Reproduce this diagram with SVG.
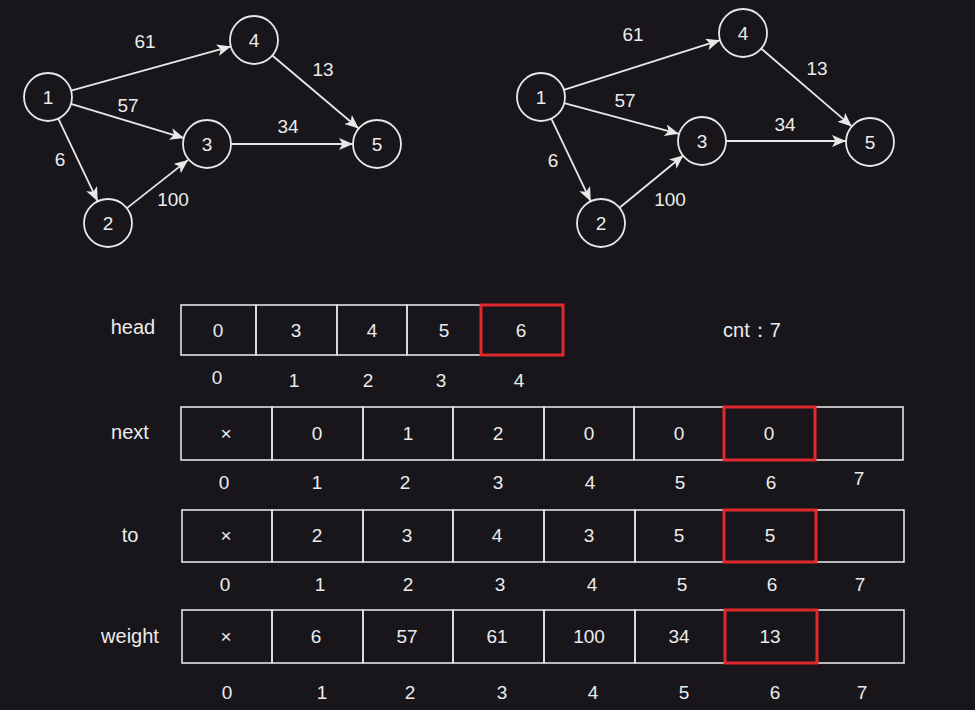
<svg xmlns="http://www.w3.org/2000/svg" width="975" height="710" viewBox="0 0 975 710">
<defs>
<style>
text{font-family:"Liberation Sans",Arial,sans-serif;font-size:19px;fill:#ececec;text-anchor:middle}
.lb{font-size:20px}
.n{fill:none;stroke:#e8e8e8;stroke-width:1.8}
.e{fill:none;stroke:#e8e8e8;stroke-width:1.8;marker-end:url(#arr)}
.c{fill:none;stroke:#e2e2e2;stroke-width:1.6}
.r{fill:none;stroke:#e0282f;stroke-width:3}
</style>
<marker id="arr" viewBox="0 0 14 12" refX="14" refY="6" markerWidth="14" markerHeight="12" markerUnits="userSpaceOnUse" orient="auto">
<path d="M0,0 L14,6 L0,12 L3.5,6 z" fill="#e8e8e8"/>
</marker>
</defs>
<rect width="975" height="710" fill="#18161b"/>

<g id="connectors">
<line class="e" x1="71.1" y1="90.6" x2="230.9" y2="46.4"/>
<line class="e" x1="71" y1="103.9" x2="184" y2="138.1"/>
<line class="e" x1="58.3" y1="118.7" x2="97.7" y2="201.3"/>
<line class="e" x1="126.9" y1="208.1" x2="188.1" y2="159.9"/>
<line class="e" x1="231" y1="144" x2="353" y2="144"/>
<line class="e" x1="272.3" y1="55.5" x2="358.7" y2="128.5"/>
<line class="e" x1="563.9" y1="89.8" x2="720.1" y2="40.2"/>
<line class="e" x1="564.2" y1="103.2" x2="678.8" y2="133.8"/>
<line class="e" x1="551.3" y1="118.7" x2="590.7" y2="201.3"/>
<line class="e" x1="619.5" y1="207.8" x2="683.5" y2="155.2"/>
<line class="e" x1="726" y1="141" x2="846" y2="141"/>
<line class="e" x1="761.2" y1="48.6" x2="851.8" y2="126.4"/>
</g>
<g id="edge-labels">
<text x="145" y="48">61</text>
<text x="128" y="112">57</text>
<text x="60" y="166">6</text>
<text x="173" y="206">100</text>
<text x="288" y="133">34</text>
<text x="323" y="76">13</text>
<text x="633" y="41">61</text>
<text x="625" y="107">57</text>
<text x="553" y="167">6</text>
<text x="670" y="206">100</text>
<text x="785" y="131">34</text>
<text x="817" y="75">13</text>
</g>

<g id="L1"><circle class="n" cx="48" cy="97" r="24"/><text x="48" y="104">1</text></g>
<g id="L2"><circle class="n" cx="108" cy="223" r="24"/><text x="108" y="230">2</text></g>
<g id="L3"><circle class="n" cx="207" cy="144" r="24"/><text x="207" y="151">3</text></g>
<g id="L4"><circle class="n" cx="254" cy="40" r="24"/><text x="254" y="47">4</text></g>
<g id="L5"><circle class="n" cx="377" cy="144" r="24"/><text x="377" y="151">5</text></g>

<g id="R1"><circle class="n" cx="541" cy="97" r="24"/><text x="541" y="104">1</text></g>
<g id="R2"><circle class="n" cx="601" cy="223" r="24"/><text x="601" y="230">2</text></g>
<g id="R3"><circle class="n" cx="702" cy="141" r="24"/><text x="702" y="148">3</text></g>
<g id="R4"><circle class="n" cx="743" cy="33" r="24"/><text x="743" y="40">4</text></g>
<g id="R5"><circle class="n" cx="870" cy="142" r="24"/><text x="870" y="149">5</text></g>

<g id="head">
<text class="lb" x="133" y="334">head</text>
<rect class="c" x="181" y="305" width="75" height="50"/>
<rect class="c" x="256" y="305" width="81" height="50"/>
<rect class="c" x="337" y="305" width="70" height="50"/>
<rect class="c" x="407" y="305" width="74" height="50"/>
<rect class="r" x="481" y="305" width="82" height="50"/>
<text x="218" y="337">0</text><text x="296" y="337">3</text><text x="372" y="337">4</text><text x="444" y="337">5</text><text x="521" y="337">6</text>
<text x="217" y="384">0</text><text x="294" y="387">1</text><text x="368" y="387">2</text><text x="441" y="387">3</text><text x="519" y="387">4</text>
</g>
<g id="cnt"><text class="lb" x="752" y="337">cnt：7</text></g>

<g id="next">
<text class="lb" x="130" y="439">next</text>
<rect class="c" x="181" y="407" width="91" height="53"/>
<rect class="c" x="272" y="407" width="91" height="53"/>
<rect class="c" x="363" y="407" width="90" height="53"/>
<rect class="c" x="453" y="407" width="91" height="53"/>
<rect class="c" x="544" y="407" width="90" height="53"/>
<rect class="c" x="634" y="407" width="90" height="53"/>
<rect class="c" x="815" y="407" width="88" height="53"/>
<rect class="r" x="724" y="407" width="91" height="53"/>
<text x="226" y="440">×</text><text x="317" y="440">0</text><text x="408" y="440">1</text><text x="498" y="440">2</text><text x="589" y="440">0</text><text x="679" y="440">0</text><text x="769" y="440">0</text>
<text x="224" y="489">0</text><text x="317" y="489">1</text><text x="405" y="489">2</text><text x="498" y="489">3</text><text x="590" y="489">4</text><text x="680" y="489">5</text><text x="771" y="489">6</text><text x="859" y="485">7</text>
</g>

<g id="to">
<text class="lb" x="130" y="542">to</text>
<rect class="c" x="182" y="510" width="90" height="52"/>
<rect class="c" x="272" y="510" width="91" height="52"/>
<rect class="c" x="363" y="510" width="90" height="52"/>
<rect class="c" x="453" y="510" width="91" height="52"/>
<rect class="c" x="544" y="510" width="91" height="52"/>
<rect class="c" x="635" y="510" width="89" height="52"/>
<rect class="c" x="816" y="510" width="88" height="52"/>
<rect class="r" x="724" y="510" width="92" height="52"/>
<text x="226" y="542">×</text><text x="317" y="542">2</text><text x="407" y="542">3</text><text x="497" y="542">4</text><text x="589" y="542">3</text><text x="679" y="542">5</text><text x="770" y="542">5</text>
<text x="225" y="591">0</text><text x="320" y="591">1</text><text x="408" y="591">2</text><text x="500" y="591">3</text><text x="592" y="591">4</text><text x="682" y="591">5</text><text x="772" y="591">6</text><text x="860" y="591">7</text>
</g>

<g id="weight">
<text class="lb" x="130" y="643">weight</text>
<rect class="c" x="182" y="610" width="90" height="53"/>
<rect class="c" x="272" y="610" width="91" height="53"/>
<rect class="c" x="363" y="610" width="90" height="53"/>
<rect class="c" x="453" y="610" width="91" height="53"/>
<rect class="c" x="544" y="610" width="91" height="53"/>
<rect class="c" x="635" y="610" width="90" height="53"/>
<rect class="c" x="817" y="610" width="87" height="53"/>
<rect class="r" x="725" y="610" width="92" height="53"/>
<text x="226" y="643">×</text><text x="316" y="643">6</text><text x="407" y="643">57</text><text x="497" y="643">61</text><text x="589" y="643">100</text><text x="679" y="643">34</text><text x="770" y="643">13</text>
<text x="227" y="699">0</text><text x="322" y="699">1</text><text x="410" y="699">2</text><text x="502" y="699">3</text><text x="593" y="699">4</text><text x="684" y="699">5</text><text x="775" y="699">6</text><text x="862" y="699">7</text>
</g>
</svg>
